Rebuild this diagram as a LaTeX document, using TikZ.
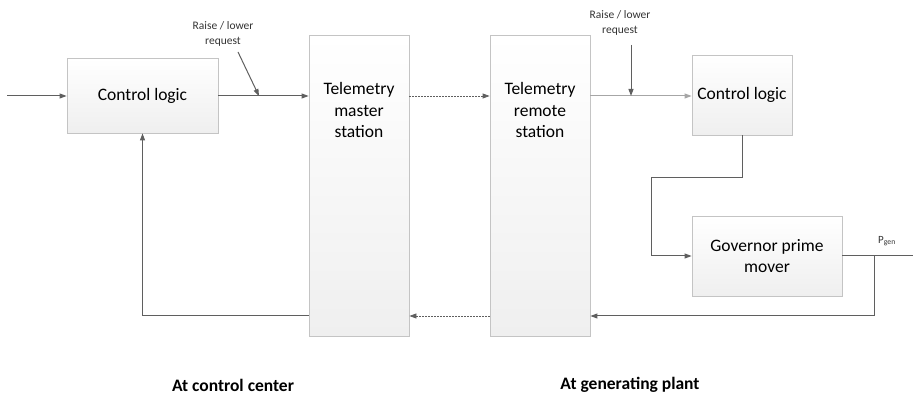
\documentclass[tikz,border=0pt]{standalone}
\usepackage{fontspec}
\setmainfont{Carlito}
\usetikzlibrary{arrows.meta}
\definecolor{linegray}{HTML}{5F5F5F}
\definecolor{lightline}{HTML}{A6A6A6}
\definecolor{boxedge}{HTML}{C4C4C4}
\definecolor{boxbot}{HTML}{EFEFEF}
\tikzset{
  block/.style={draw=boxedge, line width=0.8pt, top color=white, bottom color=boxbot,
    align=center, inner sep=0pt, font=\fontsize{17.5}{21.5}\selectfont},
  wire/.style={draw=linegray, line width=1pt},
  tip/.style={-{Triangle[length=7pt,width=5pt]}},
  dashwire/.style={draw=linegray, line width=0.8pt, dash pattern=on 2pt off 1pt},
  note/.style={align=center, font=\fontsize{11.5}{15.5}\selectfont, text=black!80},
  caption/.style={font=\fontsize{17.5}{20}\bfseries\selectfont}
}
\begin{document}
\begin{tikzpicture}[x=1pt,y=-1pt]
\useasboundingbox (0,0) rectangle (913,395);
% blocks
\node[block, minimum width=151pt, minimum height=75pt] (cl1) at (142.5,95.5) {Control logic};
\node[block, minimum width=100pt, minimum height=301pt, anchor=north] (tms) at (359,35) {};
\node[anchor=north, align=center, font=\fontsize{17.5}{21.5}\selectfont] (tmst) at (359,79) {Telemetry\\master\\station};
\node[block, minimum width=100pt, minimum height=301pt, anchor=north] (trs) at (540,35) {};
\node[anchor=north, align=center, font=\fontsize{17.5}{21.5}\selectfont] (trst) at (540,79) {Telemetry\\remote\\station};
\node[block, minimum width=100pt, minimum height=80pt] (cl2) at (742,95) {Control logic};
\node[block, minimum width=150pt, minimum height=80pt] (gpm) at (767,256) {Governor prime\\mover};
% labels
\node[note] (rl1) at (223,34) {Raise / lower\\request};
\node[note] (rl2) at (620,23) {Raise / lower\\request};
\node[font=\fontsize{11}{13}\selectfont, text=black!80] (pg) at (887,241) {P\textsubscript{gen}};
\node[caption] (cc) at (233,385) {At control center};
\node[caption] (gp) at (630,385) {At generating plant};
% helper points
\coordinate (in) at (7,96);
\coordinate (j1) at (259,96);
\coordinate (r1) at (238,52);
\coordinate (j2) at (631,96);
\coordinate (r2) at (631,45);
\coordinate (br) at (874,256);
\coordinate (out) at (913,256);
% forward path
\draw[wire, tip] (in) -- (cl1.west |- in);
\draw[wire, tip] (cl1.east |- in) -- (tms.west |- in);
\draw[wire, tip] (r1) -- (j1);
\draw[dashwire, tip] (tms.east |- in) -- (trs.west |- in);
\draw[wire, draw=lightline, tip] (trs.east |- in) -- (cl2.west |- in);
\draw[wire, tip] (r2) -- (j2);
\draw[wire, tip] (cl2.south) |- (651,178) |- (gpm.west);
\draw[wire] (gpm.east) -- (out);
% feedback path
\draw[wire, tip] (br) |- (trs.east |- 0,316);
\draw[dashwire, tip] (trs.west |- 0,316) -- (tms.east |- 0,316);
\draw[wire, tip] (tms.west |- 0,316) -| (cl1.south);
\end{tikzpicture}
\end{document}
